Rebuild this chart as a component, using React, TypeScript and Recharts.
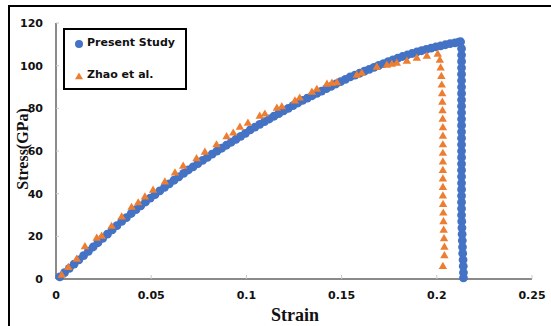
import React from 'react';
import { ScatterChart, Scatter, XAxis, YAxis, Legend } from 'recharts';

const xTicks = [0, 0.05, 0.1, 0.15, 0.2, 0.25];
const yTicks = [0, 20, 40, 60, 80, 100, 120];

const presentStrain = [
  0.002, 0.0045, 0.007, 0.0095, 0.012, 0.0145, 0.017, 0.0195, 0.022, 0.0245,
  0.027, 0.0295, 0.032, 0.0345, 0.037, 0.0395, 0.042, 0.0445, 0.047, 0.0495,
  0.052, 0.0545, 0.057, 0.0595, 0.062, 0.0645, 0.067, 0.0695, 0.072, 0.0745,
  0.077, 0.0795, 0.082, 0.0845, 0.087, 0.0895, 0.092, 0.0945, 0.097, 0.0995,
  0.102, 0.1045, 0.107, 0.1095, 0.112, 0.1145, 0.117, 0.1195, 0.122, 0.1245,
  0.127, 0.1295, 0.132, 0.1345, 0.137, 0.1395, 0.142, 0.1445, 0.147, 0.1495,
  0.152, 0.1545, 0.157, 0.1595, 0.162, 0.1645, 0.167, 0.1695, 0.172, 0.1745,
  0.177, 0.1795, 0.182, 0.1845, 0.187, 0.1895, 0.192, 0.1945, 0.197, 0.1995,
  0.202, 0.2045, 0.207, 0.2095, 0.2115, 0.2125,
  0.213, 0.213, 0.213, 0.213, 0.213, 0.213, 0.213, 0.213, 0.213, 0.213,
  0.213, 0.213, 0.213, 0.213, 0.213, 0.213, 0.213, 0.213, 0.213, 0.213,
  0.213, 0.213, 0.213, 0.213, 0.213, 0.213, 0.213, 0.2131, 0.2132, 0.2133,
  0.2134, 0.2135, 0.2136, 0.2138, 0.2139, 0.214, 0.214,
];
const presentStress = [
  1.0, 3.0, 5.0, 7.0, 9.0, 11.0, 13.0, 15.0, 17.0, 19.0,
  21.0, 23.0, 25.0, 27.0, 28.8, 30.7, 32.5, 34.3, 36.1, 37.9,
  39.6, 41.3, 43.0, 44.6, 46.3, 47.9, 49.5, 51.1, 52.6, 54.1,
  55.6, 57.0, 58.5, 59.9, 61.3, 62.7, 64.1, 65.5, 66.9, 68.3,
  69.9, 71.2, 72.5, 73.8, 75.0, 76.3, 77.5, 78.8, 80.0, 81.3,
  82.5, 83.7, 84.8, 85.9, 87.0, 88.1, 89.2, 90.3, 91.4, 92.5,
  93.6, 94.7, 95.6, 96.5, 97.4, 98.3, 99.2, 100.1, 101.0, 101.9,
  102.7, 103.5, 104.3, 105.0, 105.7, 106.4, 107.0, 107.6, 108.2, 108.8,
  109.3, 109.8, 110.3, 110.7, 111.0, 111.2,
  108, 105, 102, 99, 96, 93, 90, 87, 84, 81,
  78, 75, 72, 69, 66, 63, 60, 57, 54, 51,
  48, 45, 42, 39, 36, 33, 30, 27, 24, 21,
  18, 15, 12, 9, 6, 3, 0.5,
];

const zhaoStrain = [
  0.003, 0.0065, 0.0109, 0.0152, 0.0214, 0.024, 0.0292, 0.0345, 0.0397, 0.0432,
  0.0467, 0.051, 0.0572, 0.0625, 0.0668, 0.0738, 0.0782, 0.0843, 0.0896, 0.0931,
  0.0966, 0.1008, 0.107, 0.1097, 0.116, 0.1186, 0.1255, 0.128, 0.1344, 0.137,
  0.1423, 0.1449, 0.1475, 0.158, 0.1606, 0.1685, 0.1738, 0.1764, 0.179, 0.1843,
  0.1895, 0.1948, 0.2005,
  0.2016, 0.202, 0.2024, 0.2026, 0.2028, 0.2029, 0.203, 0.2031, 0.2032, 0.2032,
  0.2032, 0.2032, 0.2032, 0.2032, 0.2032, 0.2032, 0.2032, 0.2033, 0.2034, 0.2035,
  0.2036, 0.2038, 0.204, 0.204, 0.2032,
];
const zhaoStress = [
  1.9, 5.5, 9.4, 15.2, 19.2, 20.2, 24.8, 29.2, 33.7, 35.8,
  38.6, 41.7, 45.6, 49.8, 53.0, 56.5, 59.5, 63.0, 66.8, 68.5,
  71.3, 73.1, 76.4, 77.4, 80.2, 80.8, 83.6, 84.9, 87.7, 89.0,
  91.4, 91.9, 92.1, 95.6, 96.6, 99.4, 100.3, 100.8, 101.3, 102.2,
  103.6, 104.5, 105.5,
  102.7, 99, 95, 91, 87, 83, 79, 75, 71, 67,
  63, 59, 55, 51, 47, 43, 39, 35, 31, 27,
  23, 19, 15, 11, 6,
];

const presentData = presentStrain.map((x, i) => ({ strain: x, stress: presentStress[i] }));
const zhaoData = zhaoStrain.map((x, i) => ({ strain: x, stress: zhaoStress[i] }));

const BLUE = '#4472C4';
const ORANGE = '#ED7D31';
const tickFont = { fontFamily: 'DejaVu Sans', fontWeight: 700, fontSize: 11, fill: '#111' };

const CircleMark = (props: any) => {
  const { cx, cy } = props;
  if (cx == null || cy == null) return null;
  return <circle cx={cx} cy={cy} r={4.4} fill={BLUE} />;
};

const TriangleMark = (props: any) => {
  const { cx, cy } = props;
  if (cx == null || cy == null) return null;
  const h = 7.2;
  const w = 8.4;
  const pts = `${cx},${cy - h * 0.62} ${cx + w / 2},${cy + h * 0.38} ${cx - w / 2},${cy + h * 0.38}`;
  return <polygon points={pts} fill={ORANGE} />;
};

const LegendBox = () => (
  <div
    style={{
      width: 120,
      height: 58,
      border: '2.5px solid #000',
      background: '#fff',
      fontFamily: 'DejaVu Sans',
      fontWeight: 700,
      fontSize: 11,
      color: '#111',
      position: 'relative',
    }}
  >
    <svg width={10} height={10} style={{ position: 'absolute', left: 9, top: 9 }}>
      <circle cx={5} cy={5} r={4} fill={BLUE} />
    </svg>
    <span style={{ position: 'absolute', left: 22, top: 6, whiteSpace: 'nowrap' }}>Present Study</span>
    <svg width={10} height={10} style={{ position: 'absolute', left: 9, top: 41 }}>
      <polygon points="5,1.5 9,8.3 1,8.3" fill={ORANGE} />
    </svg>
    <span style={{ position: 'absolute', left: 22, top: 38, whiteSpace: 'nowrap' }}>Zhao et al.</span>
  </div>
);

const YLabel = (props: any) => {
  const vb = props.viewBox || {};
  const x = 28;
  const y = vb.y + vb.height / 2 - 2;
  return (
    <text
      x={x}
      y={y}
      transform={`rotate(-90, ${x}, ${y})`}
      textAnchor="middle"
      fontFamily="Liberation Serif"
      fontWeight={700}
      fontSize={16}
      fill="#111"
    >
      Stress(GPa)
    </text>
  );
};

const XLabel = (props: any) => {
  const vb = props.viewBox || {};
  const x = vb.x + vb.width / 2 + 1;
  return (
    <text x={x} y={321} textAnchor="middle" fontFamily="Liberation Serif" fontWeight={700} fontSize={18} fill="#111">
      Strain
    </text>
  );
};

export default function App() {
  return (
    <div style={{ position: 'fixed', left: 0, top: 0, width: 551, height: 326, overflow: 'hidden', background: '#fff' }}>
      <div
        style={{
          position: 'absolute',
          left: 8,
          top: 5,
          width: 700,
          height: 500,
          borderTop: '2px solid #000',
          borderLeft: '2.5px solid #000',
        }}
      />
      <div style={{ position: 'absolute', left: 0, top: 0 }}>
        <ScatterChart width={551} height={326} margin={{ top: 23, right: 19, left: 16, bottom: 17 }}>
          <XAxis
            xAxisId={0}
            type="number"
            dataKey="strain"
            domain={[0, 0.25]}
            ticks={xTicks}
            interval={0}
            height={30}
            axisLine={{ stroke: '#8a8a8a', strokeWidth: 2 }}
            tickLine={{ stroke: '#c8c8c8' }}
            tickSize={-4}
            tickMargin={16}
            tick={tickFont}
            label={<XLabel />}
          />
          <YAxis
            yAxisId={0}
            type="number"
            dataKey="stress"
            domain={[0, 120]}
            ticks={yTicks}
            interval={0}
            width={40}
            axisLine={{ stroke: '#8a8a8a', strokeWidth: 2 }}
            tickLine={{ stroke: '#c8c8c8' }}
            tickSize={-3}
            tickMargin={16}
            tick={tickFont}
            label={<YLabel />}
          />
          <XAxis
            xAxisId="top"
            orientation="top"
            type="number"
            domain={[0, 0.25]}
            height={0}
            tick={false}
            tickLine={false}
            axisLine={{ stroke: '#000', strokeWidth: 2.5 }}
          />
          <YAxis
            yAxisId="right"
            orientation="right"
            type="number"
            domain={[0, 120]}
            width={0}
            tick={false}
            tickLine={false}
            axisLine={{ stroke: '#000', strokeWidth: 2.5 }}
          />
          <Scatter
            name="Present Study"
            data={presentData}
            xAxisId={0}
            yAxisId={0}
            fill={BLUE}
            shape={<CircleMark />}
            isAnimationActive={false}
          />
          <Scatter
            name="Zhao et al."
            data={zhaoData}
            xAxisId={0}
            yAxisId={0}
            fill={ORANGE}
            shape={<TriangleMark />}
            isAnimationActive={false}
          />
          <Legend
            layout="horizontal"
            verticalAlign="middle"
            align="center"
            content={() => <LegendBox />}
            wrapperStyle={{ left: 63, top: 28, width: 'auto', height: 'auto' }}
          />
        </ScatterChart>
      </div>
    </div>
  );
}
